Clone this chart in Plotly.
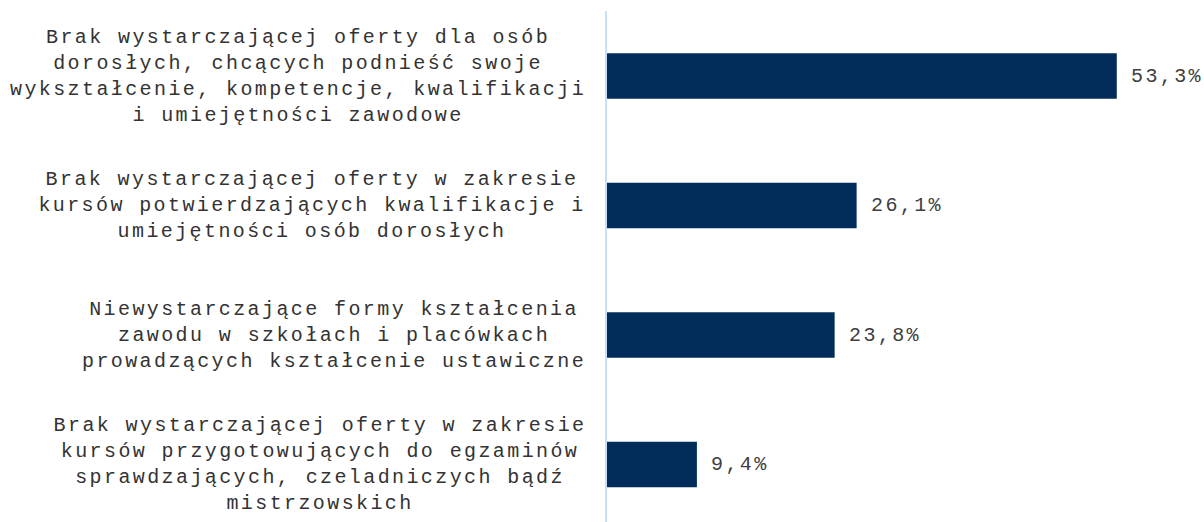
import plotly.graph_objects as go

categories = [
    "Brak wystarczającej oferty dla osób<br>dorosłych, chcących podnieść swoje<br>wykształcenie, kompetencje, kwalifikacji<br>i umiejętności zawodowe",
    "Brak wystarczającej oferty w zakresie<br>kursów potwierdzających kwalifikacje i<br>umiejętności osób dorosłych",
    "Niewystarczające formy kształcenia<br>zawodu w szkołach i placówkach<br>prowadzących kształcenie ustawiczne",
    "Brak wystarczającej oferty w zakresie<br>kursów przygotowujących do egzaminów<br>sprawdzających, czeladniczych bądź<br>mistrzowskich",
]
values = [53.3, 26.1, 23.8, 9.4]

W, H = 1204, 522
ML, MR, MT, MB = 607, 4, 11, 0
plot_w = W - ML - MR
FONT = "Liberation Mono, Courier New, monospace"
SPACING = 2.4  # letter spacing in px
FS = 20

fig = go.Figure()
fig.add_trace(go.Bar(
    x=values, y=categories, orientation="h",
    marker=dict(color="#022d5a", line=dict(width=0)),
    width=0.35, hoverinfo="skip",
))

annotations = []
for cat, v in zip(categories, values):
    maxlen = max(len(s) for s in cat.split("<br>"))
    center_px = 586 - maxlen * (FS * 0.6 + SPACING) / 2
    annotations.append(dict(
        x=(center_px - ML) / plot_w, xref="paper", xanchor="center",
        y=cat, yref="y", yanchor="middle", align="center",
        text=cat, showarrow=False,
        font=dict(family=FONT, size=FS, color="#333333"),
    ))
    annotations.append(dict(
        x=v, xref="x", xanchor="left", xshift=12,
        y=cat, yref="y", yanchor="middle", align="left",
        text=f"{v:.1f}".replace(".", ",") + "%", showarrow=False,
        font=dict(family=FONT, size=FS, color="#404040"),
    ))

fig.update_layout(
    width=W, height=H,
    margin=dict(l=ML, r=MR, t=MT, b=MB),
    paper_bgcolor="white", plot_bgcolor="white",
    showlegend=False,
    bargap=0.65,
    xaxis=dict(range=[0, 62], showgrid=False, zeroline=False,
               showticklabels=False, showline=False, ticks=""),
    yaxis=dict(type="category", range=[3.444, -0.502], showgrid=False,
               zeroline=False, showticklabels=False, ticks="",
               showline=True, linecolor="#c6defa", linewidth=2),
    annotations=annotations,
    font=dict(family=FONT, size=FS),
)

post = """
document.body.style.margin='0';
document.body.style.overflow='hidden';
var gd = document.getElementById('{plot_id}');
function sp(){ gd.querySelectorAll('.annotation-text').forEach(function(t){ t.style.letterSpacing='%spx'; }); }
sp();
if (gd.on) { gd.on('plotly_afterplot', sp); }
""" % SPACING

fig.write_html("out.html", post_script=post, config={"displayModeBar": False})
